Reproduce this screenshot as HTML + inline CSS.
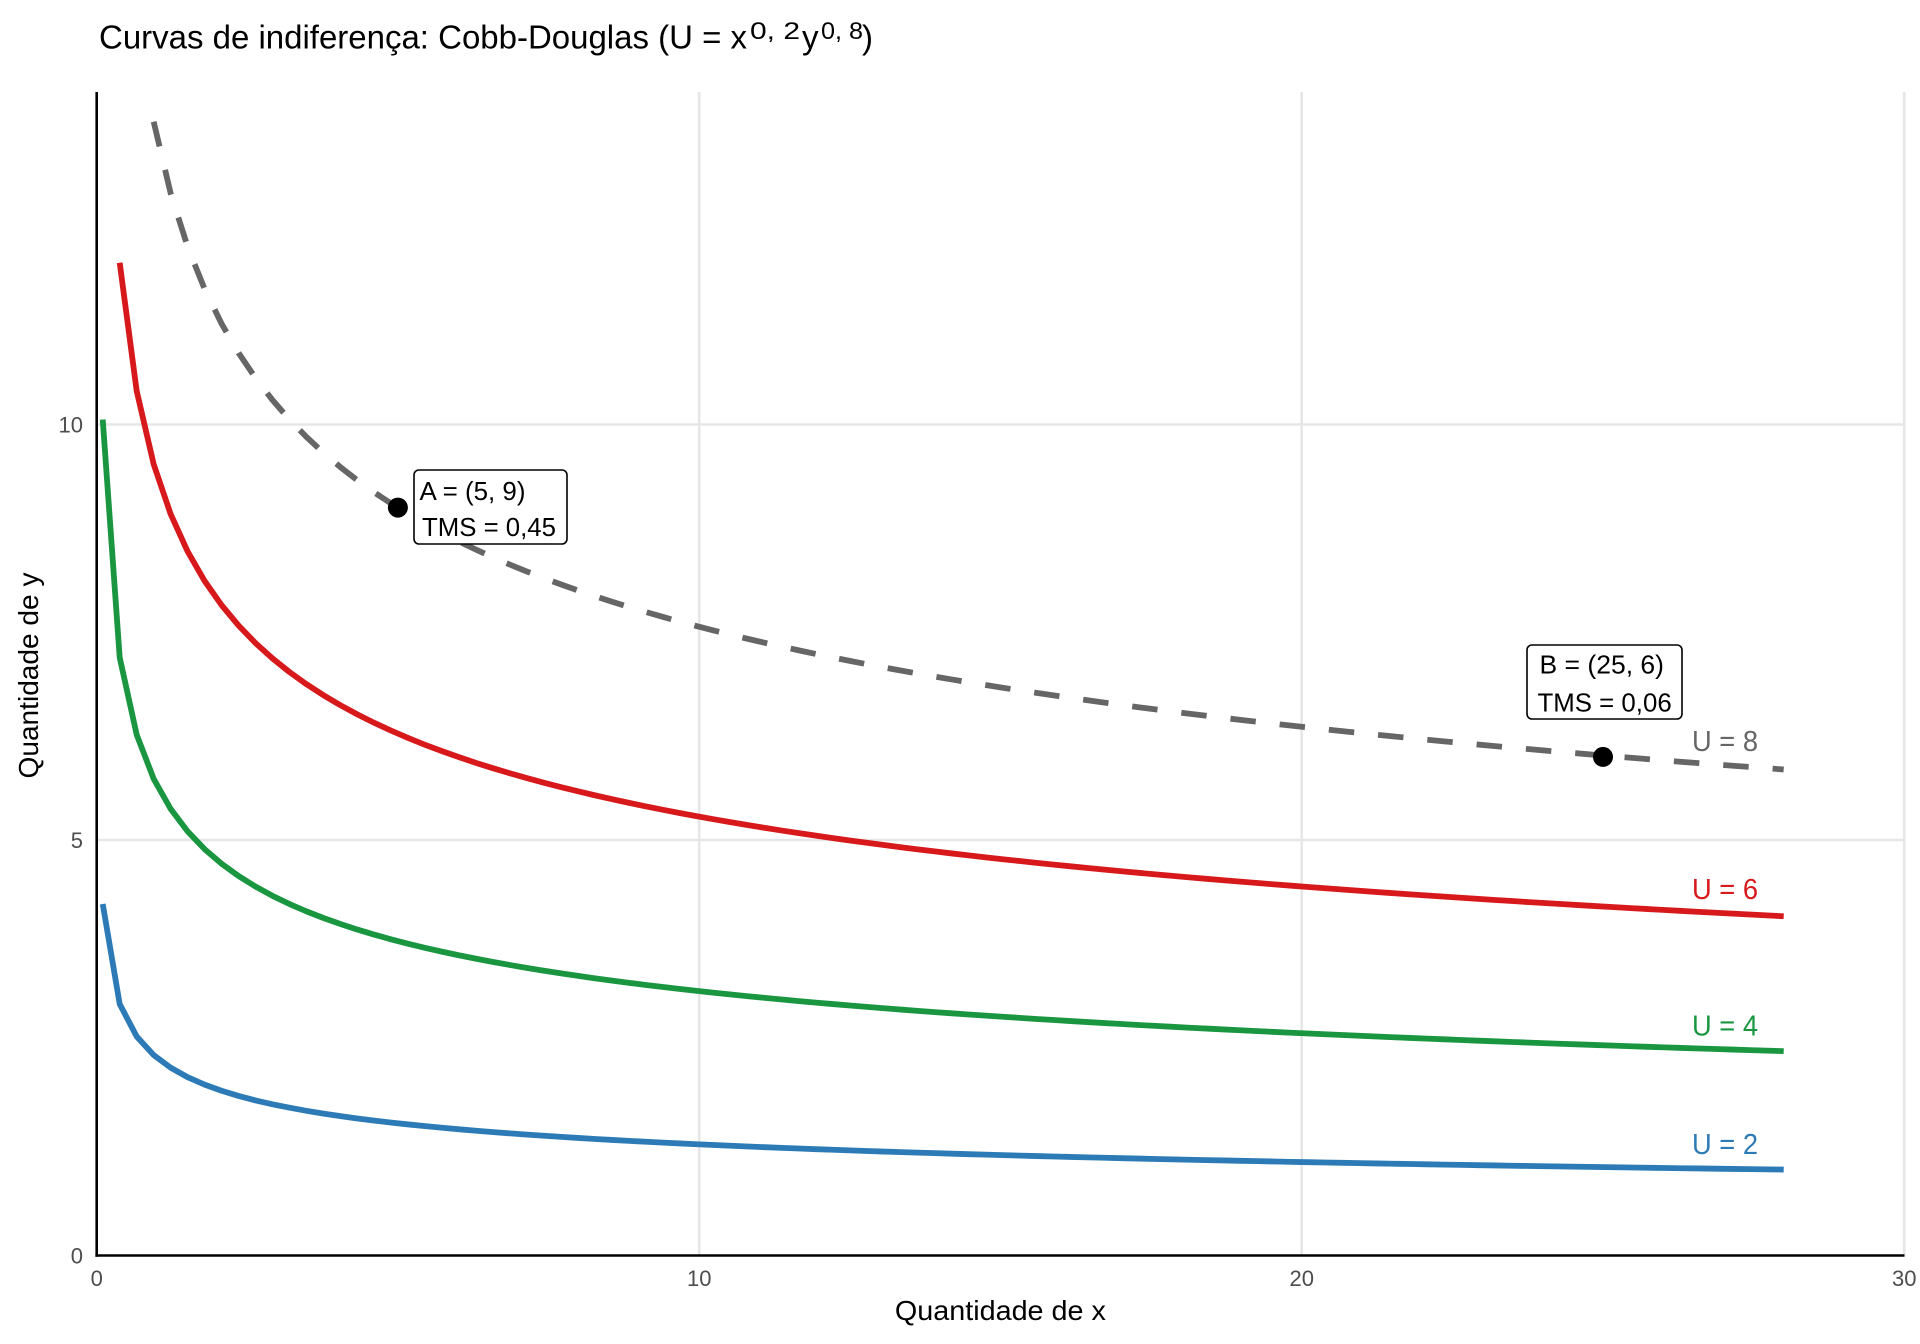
<!DOCTYPE html>
<html>
<head>
<meta charset="utf-8">
<style>
  html,body{margin:0;padding:0;background:#fff;}
  svg{display:block;}
  text{font-family:"Liberation Sans","DejaVu Sans",sans-serif;}
</style>
</head>
<body>
<svg id="chart" width="1920" height="1344" viewBox="0 0 1920 1344" xmlns="http://www.w3.org/2000/svg">
  <rect x="0" y="0" width="1920" height="1344" fill="#ffffff"/>

  <!-- grid -->
  <g stroke="#e6e6e6" stroke-width="2.6" fill="none">
    <line x1="699.2" y1="92" x2="699.2" y2="1255.5"/>
    <line x1="1301.7" y1="92" x2="1301.7" y2="1255.5"/>
    <line x1="1904.2" y1="92" x2="1904.2" y2="1255.5"/>
    <line x1="96.7" y1="840" x2="1904.2" y2="840"/>
    <line x1="96.7" y1="424.5" x2="1904.2" y2="424.5"/>
  </g>

  <!-- curves -->
  <g fill="none" stroke-width="5.8" stroke-linejoin="round">
    <path id="c2" stroke="#2c7bb6"/>
    <path id="c4" stroke="#1a9641"/>
    <path id="c6" stroke="#d7191c"/>
    <path id="c8" stroke="#666666" stroke-dasharray="25.5 24"/>
  </g>

  <!-- axes -->
  <g stroke="#000" stroke-width="2.6">
    <line x1="96.7" y1="92" x2="96.7" y2="1256.8"/>
    <line x1="95.4" y1="1255.5" x2="1904.5" y2="1255.5"/>
  </g>

  <!-- tick labels -->
  <g font-size="22" fill="#4d4d4d">
    <text x="96.7" y="1286" text-anchor="middle">0</text>
    <text x="699.2" y="1286" text-anchor="middle">10</text>
    <text x="1301.7" y="1286" text-anchor="middle">20</text>
    <text x="1904.2" y="1286" text-anchor="middle">30</text>
    <text x="83" y="1263.5" text-anchor="end">0</text>
    <text x="83" y="848" text-anchor="end">5</text>
    <text x="83" y="432.5" text-anchor="end">10</text>
  </g>

  <!-- axis titles -->
  <text x="1000.4" y="1320" text-anchor="middle" font-size="28" fill="#000" textLength="211" lengthAdjust="spacingAndGlyphs">Quantidade de x</text>
  <text transform="translate(38,675.5) rotate(-90)" x="0" y="0" text-anchor="middle" font-size="28" fill="#000" textLength="206" lengthAdjust="spacingAndGlyphs">Quantidade de y</text>

  <!-- title -->
  <text x="99" y="48.3" font-size="33" fill="#000" textLength="648" lengthAdjust="spacingAndGlyphs">Curvas de indiferença: Cobb-Douglas (U = x</text>
  <text x="750" y="39" font-size="24" fill="#000" textLength="50" lengthAdjust="spacingAndGlyphs">0, 2</text>
  <text x="802" y="48.3" font-size="33" fill="#000">y</text>
  <text x="821" y="39" font-size="24" fill="#000" textLength="42" lengthAdjust="spacingAndGlyphs">0, 8</text>
  <text x="862" y="48.3" font-size="33" fill="#000">)</text>

  <!-- points -->
  <circle cx="397.9" cy="507.6" r="10" fill="#000"/>
  <circle cx="1603" cy="756.9" r="10" fill="#000"/>

  <!-- annotation boxes -->
  <rect x="414" y="470" width="153" height="74" rx="5" ry="5" fill="#fff" stroke="#000" stroke-width="1.6"/>
  <text x="419.5" y="500" font-size="26" fill="#000" textLength="106" lengthAdjust="spacingAndGlyphs">A = (5, 9)</text>
  <text x="422" y="536" font-size="26" fill="#000" textLength="134" lengthAdjust="spacingAndGlyphs">TMS = 0,45</text>

  <rect x="1527" y="645" width="155" height="74" rx="5" ry="5" fill="#fff" stroke="#000" stroke-width="1.6"/>
  <text x="1539.5" y="673.3" font-size="26" fill="#000" textLength="124.5" lengthAdjust="spacingAndGlyphs">B = (25, 6)</text>
  <text x="1537.5" y="711.7" font-size="26" fill="#000" textLength="134.2" lengthAdjust="spacingAndGlyphs">TMS = 0,06</text>

  <!-- curve labels -->
  <g font-size="29">
    <text x="1692" y="751" fill="#666666" textLength="66" lengthAdjust="spacingAndGlyphs">U = 8</text>
    <text x="1692" y="899" fill="#d7191c" textLength="66" lengthAdjust="spacingAndGlyphs">U = 6</text>
    <text x="1692" y="1035.5" fill="#1a9641" textLength="66" lengthAdjust="spacingAndGlyphs">U = 4</text>
    <text x="1692" y="1154" fill="#2c7bb6" textLength="66" lengthAdjust="spacingAndGlyphs">U = 2</text>
  </g>
</svg>
<script>
(function(){
  function px(x){return 96.7 + x*60.25;}
  function py(y){return 1255.5 - y*83.1;}
  function build(U){
    var d = "", first = true;
    for (var k=0;k<100;k++){
      var x = 0.1 + k*27.9/99;
      var y = Math.pow(U/Math.pow(x,0.2), 1/0.8);
      if (y > 14) continue;
      d += (first ? "M" : "L") + px(x).toFixed(2) + "," + py(y).toFixed(2) + " ";
      first = false;
    }
    return d;
  }
  [2,4,6,8].forEach(function(U){
    document.getElementById("c"+U).setAttribute("d", build(U));
  });
})();
</script>
</body>
</html>
